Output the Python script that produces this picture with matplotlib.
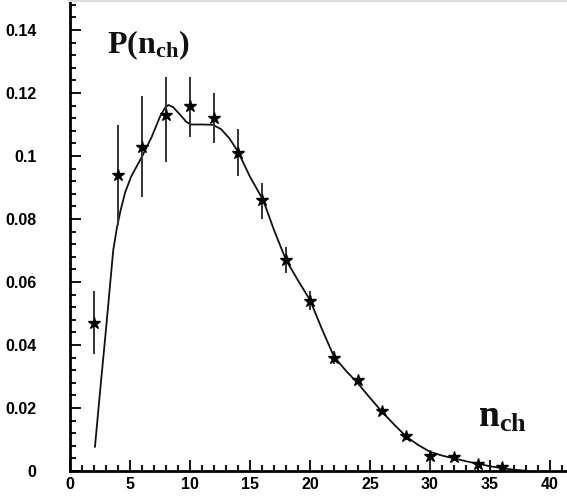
import matplotlib.pyplot as plt
from matplotlib.ticker import MultipleLocator

# measured points
n_ch = [2, 4, 6, 8, 10, 12, 14, 16, 18, 20, 22, 24, 26, 28, 30, 32, 34, 36]
p_val = [0.047, 0.094, 0.103, 0.113, 0.116, 0.112, 0.101, 0.086, 0.067, 0.054,
         0.036, 0.029, 0.019, 0.011, 0.0048, 0.0043, 0.0021, 0.0014]
err_lo = [0.010, 0.016, 0.016, 0.015, 0.010, 0.008, 0.0075, 0.006, 0.004, 0.003,
          0.002, 0.001, 0.001, 0.001, 0.005, 0.001, 0.001, 0.001]
err_hi = [0.010, 0.016, 0.016, 0.012, 0.009, 0.008, 0.0075, 0.0055, 0.004, 0.003,
          0.002, 0.001, 0.001, 0.001, 0.001, 0.001, 0.001, 0.001]

# fit curve
fit_x = [2.08, 2.5, 3.0, 3.6, 3.9, 4.2, 4.6, 5.1, 6.0, 6.8, 7.5, 7.9, 8.2, 8.6, 9.2,
         9.7, 10.1, 11.0, 11.9, 12.6, 13.3, 14.0, 15.0, 16.1, 17.0, 18.0, 19.0,
         20.0, 21.0, 22.0, 23.0, 24.0, 25.0, 26.0, 27.0, 28.0, 29.0, 30.0, 31.0,
         32.0, 33.0, 34.0, 35.0, 36.0, 37.0, 38.0]
fit_y = [0.0077, 0.025, 0.045, 0.070, 0.077, 0.0825, 0.0885, 0.0935, 0.0998, 0.106,
         0.1125, 0.1152, 0.1162, 0.1155, 0.113, 0.1108, 0.110, 0.110, 0.1099, 0.1085,
         0.1055, 0.1014, 0.0934, 0.086, 0.0765, 0.067, 0.0605, 0.0543, 0.045,
         0.0363, 0.0318, 0.0278, 0.0232, 0.0188, 0.0148, 0.0110, 0.0083, 0.0061,
         0.0049, 0.0040, 0.0031, 0.0023, 0.0015, 0.0009, 0.0004, 0.0001]

fig = plt.figure(figsize=(5.67, 4.99), dpi=100)
ax = fig.add_axes([70 / 567, 28 / 499, 497 / 567, 471 / 499])

ax.plot(fit_x, fit_y, color='#111111', lw=1.3)
ax.errorbar(n_ch, p_val, yerr=[err_lo, err_hi], fmt='none', ecolor='#333333',
            elinewidth=1.4, capsize=0)
ax.plot(n_ch, p_val, ls='none', marker='*', ms=9, color='black')

ax.set_xlim(0, 497 / 12)
ax.set_ylim(0, 471 / 3150)

ax.xaxis.set_major_locator(MultipleLocator(5))
ax.xaxis.set_minor_locator(MultipleLocator(1))
ax.yaxis.set_major_locator(MultipleLocator(0.02))
ax.yaxis.set_minor_locator(MultipleLocator(0.004))
ax.yaxis.set_major_formatter(plt.FuncFormatter(lambda v, p: '0' if v == 0 else ('%g' % round(v, 3))))

ax.tick_params(which='both', direction='in', top=False, right=False, width=1.3)
ax.tick_params(which='major', length=8)
ax.tick_params(which='minor', length=4)
ax.tick_params(axis='y', which='major', pad=24)
ax.tick_params(axis='x', which='major', pad=4)
for lab in ax.get_xticklabels() + ax.get_yticklabels():
    lab.set_fontfamily('Liberation Sans')
    lab.set_fontweight('bold')
    lab.set_fontsize(11.5)

ax.spines['right'].set_visible(False)
ax.spines['top'].set_color('#dddddd')
ax.spines['top'].set_linewidth(3)
ax.spines['left'].set_linewidth(2)
ax.spines['bottom'].set_linewidth(2)

plt.rcParams['mathtext.fontset'] = 'custom'
plt.rcParams['mathtext.rm'] = 'Liberation Serif:bold'
plt.rcParams['mathtext.bf'] = 'Liberation Serif:bold'
plt.rcParams['mathtext.it'] = 'Liberation Serif:bold'

fig.text(107 / 567, 1 - 53 / 499, r'$\mathbf{P(n_{ch})}$', fontsize=23,
         color='#111111', ha='left', va='baseline')
fig.text(478 / 567, 1 - 427 / 499, r'$\mathbf{n_{ch}}$', fontsize=27,
         color='#111111', ha='left', va='baseline')

fig.savefig('out.png', dpi=100)
